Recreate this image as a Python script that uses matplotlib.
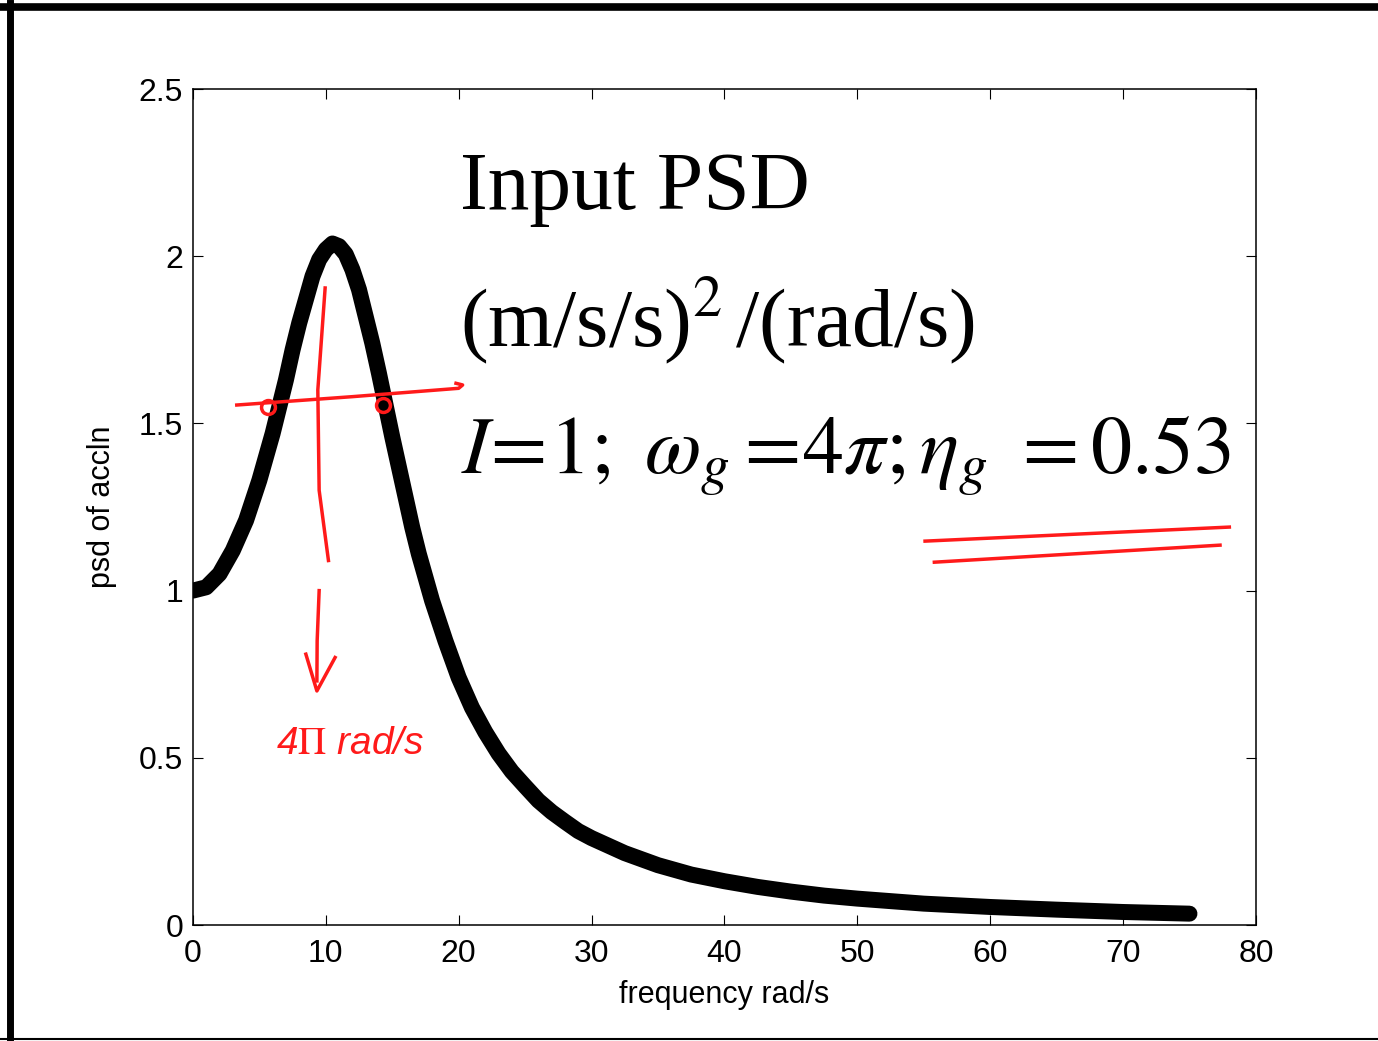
import matplotlib
matplotlib.use('Agg')
import matplotlib.pyplot as plt
from matplotlib.lines import Line2D

# values
freq = [0, 1, 2, 3, 4, 5, 5.5, 6, 6.5, 7, 7.5, 8, 8.5, 9, 9.5, 10, 10.5, 11,
        11.5, 12, 12.5, 13, 13.5, 14, 14.5, 15, 15.5, 16, 16.5, 17, 17.5, 18,
        19, 20, 21, 22, 23, 24, 25, 26, 27, 28, 29, 30, 32.5, 35, 37.5, 40,
        42.5, 45, 47.5, 50, 55, 60, 65, 70, 75]
psd = [1.00, 1.01, 1.05, 1.12, 1.21, 1.33, 1.40, 1.47, 1.55, 1.63, 1.72, 1.80,
       1.87, 1.94, 1.99, 2.02, 2.038, 2.03, 2.006, 1.96, 1.90, 1.82, 1.74,
       1.65, 1.555, 1.46, 1.37, 1.28, 1.19, 1.11, 1.04, 0.97, 0.85, 0.74,
       0.65, 0.577, 0.513, 0.459, 0.415, 0.372, 0.338, 0.309, 0.281, 0.260,
       0.215, 0.179, 0.151, 0.131, 0.114, 0.100, 0.088, 0.079, 0.064, 0.054,
       0.046, 0.039, 0.034]

xticks = [0, 10, 20, 30, 40, 50, 60, 70, 80]
yticks = [0, 0.5, 1, 1.5, 2, 2.5]
ytick_labels = ['0', '0.5', '1', '1.5', '2', '2.5']

plt.rcParams['font.family'] = ['Liberation Sans', 'DejaVu Sans']
plt.rcParams['mathtext.fontset'] = 'stix'

fig = plt.figure(figsize=(13.78, 10.41), dpi=100)
ax = fig.add_axes([0.140, 0.1114, 0.7714, 0.8031])

ax.plot(freq, psd, color='black', lw=11.5, solid_capstyle='round',
        solid_joinstyle='round')

ax.set_xlim(0, 80)
ax.set_ylim(0, 2.5)
ax.set_xticks(xticks)
ax.set_yticks(yticks)
ax.set_yticklabels(ytick_labels)
ax.tick_params(direction='in', length=7, width=0.8, labelsize=23,
               top=True, right=True)
ax.tick_params(axis='x', pad=10)
ax.tick_params(axis='y', pad=7)
for s in ax.spines.values():
    s.set_linewidth(1.1)
ax.set_xlabel('frequency rad/s', fontsize=22, labelpad=8)
ax.set_ylabel('psd of accln', fontsize=22, labelpad=16)

# slide text
ax.text(20.1, 2.14, 'Input PSD', fontsize=60, family='Liberation Serif',
        va='baseline')
ax.text(20.1, 1.73, r'(m/s/s)$^{2}\,$/(rad/s)', fontsize=60,
        family='Liberation Serif', va='baseline')
ax.text(20.2, 1.35, r'$I\!=\!1;\ \omega_g\,\!=\!4\pi;\eta_g\ =0.53$',
        fontsize=59, va='baseline')

# red hand annotations
red = '#ff1a1a'
ax.plot([3.3, 12.0, 20.0, 20.3, 19.8], [1.555, 1.58, 1.605, 1.615, 1.62],
        color=red, lw=2.5)
ax.plot([5.65, 14.3], [1.549, 1.555], 'o', ms=10, mfc='none', mec=red, mew=2.5)
ax.plot([9.95, 9.4, 9.5, 10.2], [1.905, 1.6, 1.3, 1.09], color=red, lw=2.5)
ax.plot([9.5, 9.35, 9.33], [1.0, 0.85, 0.73], color=red, lw=2.5)
ax.plot([8.5, 9.33, 10.7], [0.81, 0.70, 0.80], color=red, lw=2.5)
ax.text(11.8, 0.54, r'4$\Pi$ rad/s', color=red, fontsize=28, ha='center',
        va='center', style='italic')
ax.plot([55.1, 78.0], [1.148, 1.19], color=red, lw=2.5)
ax.plot([55.8, 77.3], [1.085, 1.136], color=red, lw=2.5)

# slide border
fig.add_artist(Line2D([0, 1], [0.9928, 0.9928], color='black', lw=5.5,
                      transform=fig.transFigure))
fig.add_artist(Line2D([0.0076, 0.0076], [0.0, 0.997], color='black', lw=5,
                      transform=fig.transFigure))
fig.add_artist(Line2D([0, 1], [0.002, 0.002], color='black', lw=1.5,
                      transform=fig.transFigure))

fig.savefig('out.png', dpi=100)
